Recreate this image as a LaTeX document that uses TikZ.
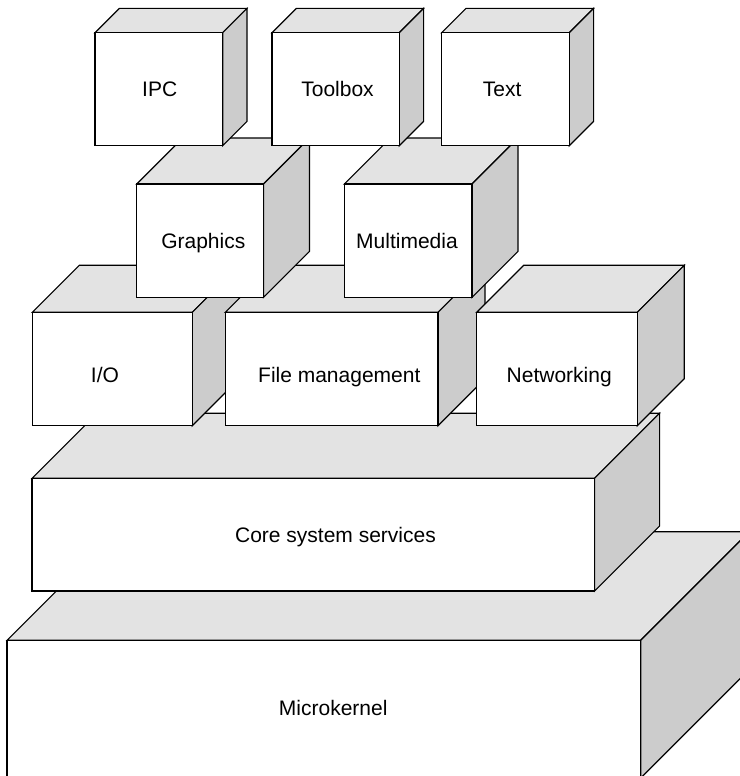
\documentclass[tikz,border=0pt]{standalone}
\usepackage{fontspec}
\setmainfont{Liberation Sans}
\definecolor{topgray}{HTML}{E3E3E3}
\definecolor{sidegray}{HTML}{CCCCCC}
\tikzset{
  edge/.style={draw=black, line width=0.85pt, line join=miter},
  topface/.style={edge, fill=topgray},
  sideface/.style={edge, fill=sidegray},
  frontface/.style={edge, fill=white},
  lbl/.style={inner sep=0pt, anchor=base, font=\fontsize{15.75}{18}\selectfont}
}
% #1 name, #2 x1, #3 y1 (top), #4 x2, #5 y2 (bottom), #6 depth
\newcommand{\cubebox}[6]{%
  \path[topface] (#2,#3) -- (#2+#6,#3-#6) -- (#4+#6,#3-#6) -- (#4,#3) -- cycle;
  \path[sideface] (#4,#3) -- (#4+#6,#3-#6) -- (#4+#6,#5-#6) -- (#4,#5) -- cycle;
  \path[frontface] (#2,#3) rectangle (#4,#5);
  \coordinate (#1) at (#2,#3);
}
\begin{document}
\begin{tikzpicture}[x=0.75pt,y=-0.75pt]
\useasboundingbox (0,0) rectangle (740,776);
\clip (0,0) rectangle (740,776);
% bottom layers
\cubebox{mk}{7}{640.3}{640.7}{778}{108.5}
\cubebox{core}{32}{478.3}{594.6}{591}{65}
% third layer
\cubebox{io}{32.3}{312.3}{192.3}{425.7}{47}
\cubebox{fm}{225.3}{312.3}{438}{425.7}{47}
\cubebox{net}{476.7}{312.3}{637.3}{425.7}{47}
% middle layer
\cubebox{gfx}{136.7}{184}{263.5}{297.3}{46}
\cubebox{mm}{344.3}{184}{472}{297.3}{46}
% top layer
\cubebox{ipc}{95}{32.7}{222.7}{145.7}{24.3}
\cubebox{tb}{272}{32.7}{399.3}{145.7}{24.3}
\cubebox{txt}{441.7}{32.7}{569.3}{145.7}{24.3}
% labels
\node[lbl] (ipcl) at (159.7,96.7) {IPC};
\node[lbl] (tbl) at (337.5,96.7) {Toolbox};
\node[lbl] (txtl) at (502.2,96.7) {Text};
\node[lbl] (gfxl) at (203.3,248.3) {Graphics};
\node[lbl] (mml) at (407,248.3) {Multimedia};
\node[lbl] (iol) at (105,382.3) {I/O};
\node[lbl] (fml) at (339.3,382.3) {File management};
\node[lbl] (netl) at (559.2,382.3) {Networking};
\node[lbl] (corel) at (335.5,542.7) {Core system services};
\node[lbl] (mkl) at (333.2,715) {Microkernel};
\end{tikzpicture}
\end{document}
